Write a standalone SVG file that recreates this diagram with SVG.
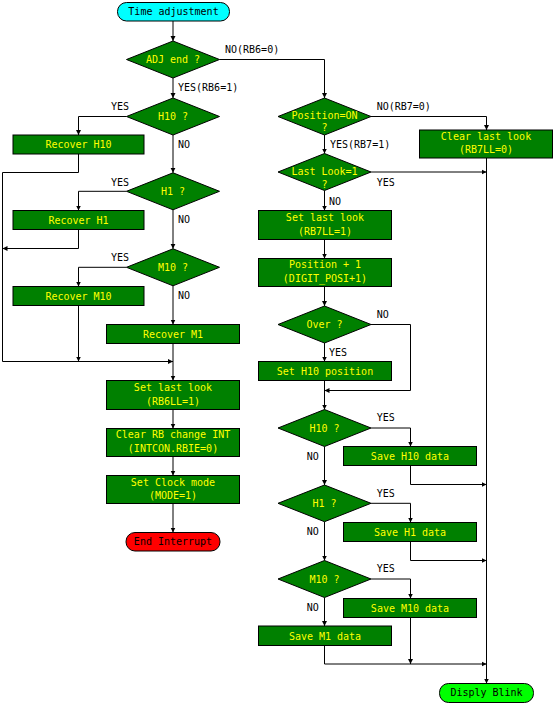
<svg xmlns="http://www.w3.org/2000/svg" width="554" height="704" viewBox="0 0 554 704">
<style>
text{font-family:"DejaVu Sans Mono","Liberation Mono",monospace;font-size:10px}
.b{fill:#008000;stroke:#000;stroke-width:1}
.bt{fill:#ffff00;text-anchor:middle}
.lb{fill:#000}
.tt{fill:#000;text-anchor:middle}
.c{fill:none;stroke:#000;stroke-width:1;marker-end:url(#a)}
</style>
<defs>
<marker id="a" markerUnits="userSpaceOnUse" markerWidth="6" markerHeight="6" refX="5" refY="3" orient="auto">
<path d="M0,0.5 L5,3 L0,5.5 z" fill="#000"/>
</marker>
</defs>
<rect width="554" height="704" fill="#fff"/>
<g id="connectors">
<path class="c" d="M173,21 V41"/>
<path class="c" d="M219.5,59.5 H324.5 V98"/>
<path class="c" d="M173,78 V98"/>
<path class="c" d="M126.5,116.5 H78.5 V135"/>
<path class="c" d="M173,135 V172.8"/>
<path class="c" d="M78.5,154 V172.5 H2.5 V361.5 H173"/>
<path class="c" d="M126.5,191.3 H78.5 V210.5"/>
<path class="c" d="M78.5,229.5 V248.5 H2.5"/>
<path class="c" d="M173,209.8 V248.8"/>
<path class="c" d="M126.5,267.3 H78.5 V286.5"/>
<path class="c" d="M78.5,305.5 V361.5"/>
<path class="c" d="M173,285.8 V324.5"/>
<path class="c" d="M173,343.5 V380.5"/>
<path class="c" d="M173,409.5 V428.5"/>
<path class="c" d="M173,456.5 V475.5"/>
<path class="c" d="M173,503.5 V532.5"/>
<path class="c" d="M371,116.5 H486.5 V130"/>
<path class="c" d="M324.5,135 V153.5"/>
<path class="c" d="M486.5,158 V683.5"/>
<path class="c" d="M371,172 H486.5"/>
<path class="c" d="M324.5,190.5 V210.5"/>
<path class="c" d="M324.5,239.5 V258.5"/>
<path class="c" d="M324.5,286.5 V306"/>
<path class="c" d="M324.5,343 V361.5"/>
<path class="c" d="M371,324.5 H410.5 V390.5 H324.5"/>
<path class="c" d="M324.5,380.5 V409.5"/>
<path class="c" d="M371,428 H410.5 V446.5"/>
<path class="c" d="M410.5,465.5 V484.5 H486.5"/>
<path class="c" d="M324.5,446.5 V485"/>
<path class="c" d="M371,503.3 H410.5 V522.5"/>
<path class="c" d="M410.5,541.5 V560.5 H486.5"/>
<path class="c" d="M324.5,521.7 V560.5"/>
<path class="c" d="M371,579 H410.5 V598.5"/>
<path class="c" d="M324.5,597.5 V626"/>
<path class="c" d="M410.5,617.5 V664"/>
<path class="c" d="M324.5,645.5 V664 H486.5"/>
</g>
<g id="labels">
<text class="lb" x="225" y="53">NO(RB6=0)</text>
<text class="lb" x="178" y="91">YES(RB6=1)</text>
<text class="lb" x="111" y="110">YES</text>
<text class="lb" x="178" y="148">NO</text>
<text class="lb" x="111" y="185.5">YES</text>
<text class="lb" x="178" y="223">NO</text>
<text class="lb" x="111" y="260.5">YES</text>
<text class="lb" x="178" y="299">NO</text>
<text class="lb" x="376.7" y="109.5">NO(RB7=0)</text>
<text class="lb" x="330" y="148">YES(RB7=1)</text>
<text class="lb" x="376.7" y="185.5">YES</text>
<text class="lb" x="329" y="204.5">NO</text>
<text class="lb" x="376.7" y="318">NO</text>
<text class="lb" x="329" y="355.5">YES</text>
<text class="lb" x="376.7" y="421">YES</text>
<text class="lb" x="306.7" y="460">NO</text>
<text class="lb" x="376.7" y="497">YES</text>
<text class="lb" x="306.7" y="534.5">NO</text>
<text class="lb" x="376.7" y="572">YES</text>
<text class="lb" x="306.7" y="610.5">NO</text>
</g>
<g id="start">
<rect x="117.5" y="2.5" width="112" height="18.5" rx="9" fill="#00ffff" stroke="#000"/>
<text class="tt" x="173.5" y="14.6">Time adjustment</text>
</g>
<g id="adj-end">
<polygon class="b" points="126.5,59.5 173,41 219.5,59.5 173,78"/>
<text class="bt" x="173" y="62.5">ADJ end ?</text>
</g>
<g id="h10-l">
<polygon class="b" points="126.5,116.5 173,98 219.5,116.5 173,135"/>
<text class="bt" x="173" y="119.5">H10 ?</text>
</g>
<g id="recover-h10">
<rect class="b" x="13" y="135" width="131" height="19"/>
<text class="bt" x="78.5" y="148">Recover H10</text>
</g>
<g id="h1-l">
<polygon class="b" points="126.5,191.3 173,172.8 219.5,191.3 173,209.8"/>
<text class="bt" x="173" y="194.5">H1 ?</text>
</g>
<g id="recover-h1">
<rect class="b" x="13" y="210.5" width="131" height="19"/>
<text class="bt" x="78.5" y="223.5">Recover H1</text>
</g>
<g id="m10-l">
<polygon class="b" points="126.5,267.3 173,248.8 219.5,267.3 173,285.8"/>
<text class="bt" x="173" y="270.5">M10 ?</text>
</g>
<g id="recover-m10">
<rect class="b" x="13" y="286.5" width="131" height="19"/>
<text class="bt" x="78.5" y="299.5">Recover M10</text>
</g>
<g id="recover-m1">
<rect class="b" x="106.5" y="324.5" width="133" height="19"/>
<text class="bt" x="173" y="337.5">Recover M1</text>
</g>
<g id="set-last-look-l">
<rect class="b" x="106.5" y="380.5" width="133" height="29"/>
<text class="bt" x="173" y="390.5">Set last look</text>
<text class="bt" x="173" y="404.5">(RB6LL=1)</text>
</g>
<g id="clear-rb">
<rect class="b" x="106.5" y="428.5" width="133" height="28"/>
<text class="bt" x="173" y="437.5">Clear RB change INT</text>
<text class="bt" x="173" y="452">(INTCON.RBIE=0)</text>
</g>
<g id="set-clock">
<rect class="b" x="106.5" y="475.5" width="133" height="28"/>
<text class="bt" x="173" y="485.5">Set Clock mode</text>
<text class="bt" x="173" y="499">(MODE=1)</text>
</g>
<g id="end-interrupt">
<rect x="126" y="532.5" width="94" height="18.5" rx="9" fill="#ff0000" stroke="#000"/>
<text class="tt" x="173" y="544.6">End Interrupt</text>
</g>
<g id="position-on">
<polygon class="b" points="278,116.5 324.5,98 371,116.5 324.5,135"/>
<text class="bt" x="324.5" y="118.5">Position=ON</text>
<text class="bt" x="324.5" y="131">?</text>
</g>
<g id="clear-last-look">
<rect class="b" x="419.5" y="130" width="133" height="28"/>
<text class="bt" x="486" y="139.5">Clear last look</text>
<text class="bt" x="486" y="153">(RB7LL=0)</text>
</g>
<g id="last-look">
<polygon class="b" points="278,172 324.5,153.5 371,172 324.5,190.5"/>
<text class="bt" x="324.5" y="175">Last Look=1</text>
<text class="bt" x="324.5" y="187.5">?</text>
</g>
<g id="set-last-look-r">
<rect class="b" x="258.5" y="210.5" width="133" height="29"/>
<text class="bt" x="325" y="220.5">Set last look</text>
<text class="bt" x="325" y="234.5">(RB7LL=1)</text>
</g>
<g id="position-plus">
<rect class="b" x="258.5" y="258.5" width="133" height="28"/>
<text class="bt" x="325" y="267.5">Position + 1</text>
<text class="bt" x="325" y="281.5">(DIGIT_POSI+1)</text>
</g>
<g id="over">
<polygon class="b" points="278,324.5 324.5,306 371,324.5 324.5,343"/>
<text class="bt" x="324.5" y="327.5">Over ?</text>
</g>
<g id="set-h10-pos">
<rect class="b" x="258.5" y="361.5" width="133" height="19"/>
<text class="bt" x="325" y="374.5">Set H10 position</text>
</g>
<g id="h10-r">
<polygon class="b" points="278,428 324.5,409.5 371,428 324.5,446.5"/>
<text class="bt" x="324.5" y="431.5">H10 ?</text>
</g>
<g id="save-h10">
<rect class="b" x="343.5" y="446.5" width="133" height="19"/>
<text class="bt" x="410" y="459.5">Save H10 data</text>
</g>
<g id="h1-r">
<polygon class="b" points="278,503.3 324.5,485 371,503.3 324.5,521.7"/>
<text class="bt" x="324.5" y="506.5">H1 ?</text>
</g>
<g id="save-h1">
<rect class="b" x="343.5" y="522.5" width="133" height="19"/>
<text class="bt" x="410" y="535.5">Save H1 data</text>
</g>
<g id="m10-r">
<polygon class="b" points="278,579 324.5,560.5 371,579 324.5,597.5"/>
<text class="bt" x="324.5" y="582.5">M10 ?</text>
</g>
<g id="save-m10">
<rect class="b" x="343.5" y="598.5" width="133" height="19"/>
<text class="bt" x="410" y="611.5">Save M10 data</text>
</g>
<g id="save-m1">
<rect class="b" x="258.5" y="626" width="133" height="19.5"/>
<text class="bt" x="325" y="639.5">Save M1 data</text>
</g>
<g id="disply-blink">
<rect x="439.5" y="683.5" width="94" height="19" rx="9" fill="#00ff00" stroke="#000"/>
<text class="tt" x="486.5" y="695.5">Disply Blink</text>
</g>
</svg>
